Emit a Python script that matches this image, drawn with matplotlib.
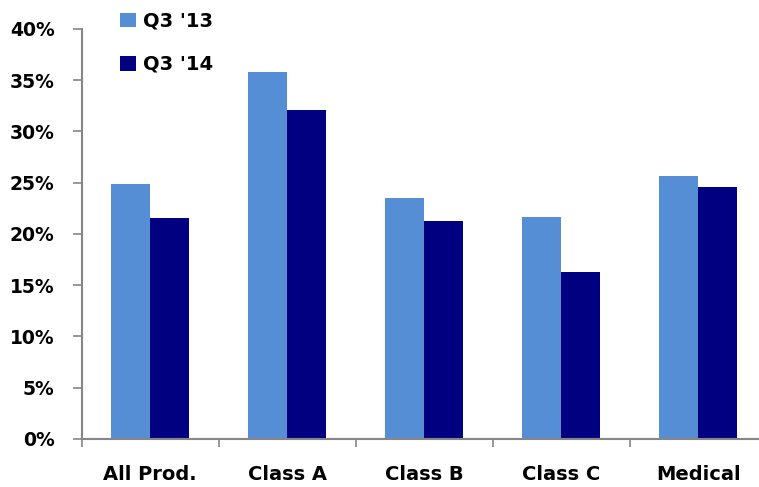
import matplotlib

matplotlib.use("Agg")
import matplotlib.pyplot as plt
import numpy as np
from matplotlib.ticker import FixedLocator, PercentFormatter

categories = ["All Prod.", "Class A", "Class B", "Class C", "Medical"]
q3_13 = [24.9, 35.8, 23.5, 21.7, 25.7]
q3_14 = [21.6, 32.1, 21.3, 16.3, 24.6]
series_labels = ["Q3 '13", "Q3 '14"]
series_colors = ["#558ED5", "#000080"]

plt.rcParams["font.family"] = ["DejaVu Sans"]
plt.rcParams["font.weight"] = "bold"

fig = plt.figure(figsize=(7.59, 4.87), dpi=100)
ax = fig.add_axes([0.1076, 0.0986, 0.8924, 0.8419])

x = np.arange(len(categories))
width = 0.285
ax.bar(x - width / 2, q3_13, width, color=series_colors[0], label=series_labels[0])
ax.bar(x + width / 2, q3_14, width, color=series_colors[1], label=series_labels[1])

ax.set_xlim(-0.5, 4.444)
ax.set_ylim(0, 40)
ax.set_yticks(np.arange(0, 41, 5))
ax.yaxis.set_major_formatter(PercentFormatter(decimals=0))

# category labels centred, tick marks on group boundaries
ax.set_xticks(x)
ax.set_xticklabels(categories)
ax.xaxis.set_minor_locator(FixedLocator(np.arange(-0.5, len(categories), 1.0)))
ax.tick_params(axis="x", which="major", length=0, pad=19, labelsize=14)
ax.tick_params(axis="x", which="minor", length=6, width=1.2, color="#868686", direction="out")
ax.tick_params(axis="y", length=6.5, width=1.2, color="#868686", pad=13, labelsize=13.5)

for side in ("top", "right"):
    ax.spines[side].set_visible(False)
for side in ("left", "bottom"):
    ax.spines[side].set_color("#868686")
    ax.spines[side].set_linewidth(1.5)

leg = ax.legend(
    loc="upper left",
    bbox_to_anchor=(0.156, 0.980),
    bbox_transform=fig.transFigure,
    frameon=False,
    fontsize=14,
    handlelength=0.82,
    handleheight=0.78,
    handletextpad=0.36,
    labelspacing=1.25,
    borderpad=0.1,
    borderaxespad=0,
)

fig.savefig("out.png", dpi=100)
